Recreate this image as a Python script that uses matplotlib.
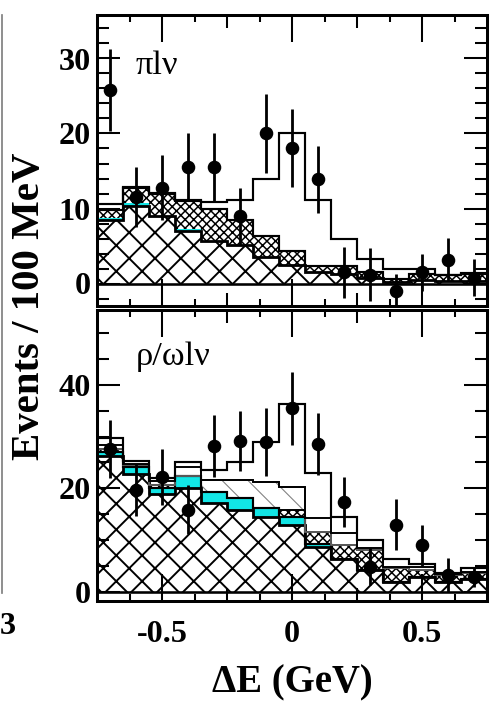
import matplotlib
matplotlib.use('Agg')
import matplotlib.pyplot as plt
from matplotlib.ticker import MultipleLocator, FixedLocator, FuncFormatter
from matplotlib.lines import Line2D

DPI = 155
plt.rcParams['font.family'] = ['Liberation Serif', 'DejaVu Serif']
plt.rcParams['font.weight'] = 'bold'
plt.rcParams['hatch.linewidth'] = 0.9

# bins of Delta E (GeV)
edges = [-0.75, -0.65, -0.55, -0.45, -0.35, -0.25, -0.15, -0.05,
         0.05, 0.15, 0.25, 0.35, 0.45, 0.55, 0.65, 0.75]
centers = [-0.7, -0.6, -0.5, -0.4, -0.3, -0.2, -0.1, 0.0,
           0.1, 0.2, 0.3, 0.4, 0.5, 0.6, 0.7]

# pi l nu panel
pi_data = [25.8, 11.5, 12.8, 15.5, 15.5, 9.0, 20.0, 18.1, 13.9, 1.5, 1.2, -1.0, 1.5, 3.2, 0.8]
pi_err = [5.4, 4.0, 4.3, 4.5, 4.6, 3.8, 5.2, 5.2, 4.5, 3.4, 3.5, 2.3, 2.5, 2.9, 2.5]
pi_bkg1 = [8.5, 10.4, 9.0, 7.0, 5.7, 5.2, 3.5, 2.5, 1.5, 1.3, 0.8, 0.2, 0.5, 0.3, 0.3]
pi_bkg2 = [8.8, 10.7, 9.0, 7.3, 5.7, 5.2, 3.5, 2.5, 1.5, 1.3, 0.8, 0.2, 0.5, 0.3, 0.3]
pi_bkg3 = [9.8, 12.7, 12.0, 11.0, 9.9, 8.5, 6.4, 4.4, 2.3, 2.3, 1.6, 0.6, 1.3, 1.1, 1.3]
pi_total = [10.6, 12.9, 12.1, 11.1, 10.9, 11.2, 13.9, 20.0, 11.1, 5.9, 3.3, 1.9, 1.9, 1.2, 1.4]

# rho/omega l nu panel
rho_data = [27.6, 19.7, 22.2, 15.9, 28.2, 29.2, 28.9, 35.5, 28.5, 17.4, 4.8, 13.0, 9.0, 3.2, 2.9]
rho_err = [5.6, 5.1, 5.4, 4.7, 6.0, 5.8, 6.6, 7.1, 6.0, 4.8, 3.6, 4.9, 4.0, 3.3, 1.9]
rho_bkg1 = [26.2, 22.7, 18.9, 20.0, 17.1, 15.8, 14.4, 12.9, 8.6, 6.3, 4.2, 1.9, 2.9, 1.9, 2.5]
rho_bkg2 = [27.1, 24.2, 20.1, 22.4, 19.3, 18.1, 16.1, 14.5, 9.2, 6.3, 4.2, 1.9, 2.9, 1.9, 2.5]
rho_bkg3 = [27.6, 24.5, 20.6, 22.4, 19.3, 18.1, 16.1, 15.8, 11.6, 9.0, 8.0, 4.6, 4.2, 3.2, 3.6]
rho_bkg4 = [27.6, 24.5, 20.6, 22.4, 21.6, 21.6, 21.3, 20.3, 11.6, 9.0, 8.0, 4.6, 4.2, 3.2, 3.6]
rho_mid = [28.4, 24.8, 21.4, 24.2, 21.6, 21.6, 21.3, 20.3, 14.2, 11.3, 8.4, 4.8, 4.8, 3.4, 3.8]
rho_total = [29.7, 25.3, 22.0, 25.1, 23.5, 25.1, 29.0, 36.3, 23.0, 14.5, 10.0, 6.3, 5.3, 3.6, 4.5]

CYAN = '#12e6e6'

fig = plt.figure(figsize=(490 / DPI, 701 / DPI), dpi=DPI)
ax1 = fig.add_axes([97 / 490, 1 - 306 / 701, 390 / 490, 291 / 701])
ax2 = fig.add_axes([97 / 490, 1 - 601 / 701, 390 / 490, 291 / 701])


def xfmt(v, pos):
    if abs(v * 2 - round(v * 2)) < 1e-6:
        return '%g' % (v + 0.0)
    return ''


def thin_hatch(ax, top, base, hatch, color, lw):
    # hatch linewidth is picked up from rcParams when the patch is made
    with plt.rc_context({'hatch.linewidth': lw}):
        p = ax.stairs(top, edges, baseline=base, fill=True, facecolor='white',
                      edgecolor=color, hatch=hatch, lw=0)
    if hasattr(p, 'set_hatch_linewidth'):
        p.set_hatch_linewidth(lw)
    return p


def style_axes(ax, ymajor, yminor, ylim, show_x):
    ax.set_xlim(-0.75, 0.75)
    ax.set_ylim(*ylim)
    ax.xaxis.set_major_locator(FixedLocator([-0.5, -0.25, 0, 0.25, 0.5]))
    ax.xaxis.set_minor_locator(FixedLocator([-0.625, -0.375, -0.125, 0.125, 0.375, 0.625]))
    ax.xaxis.set_major_formatter(FuncFormatter(xfmt))
    ax.yaxis.set_major_locator(MultipleLocator(ymajor))
    ax.yaxis.set_minor_locator(MultipleLocator(yminor))
    ax.tick_params(which='both', direction='in', top=True, right=True,
                   width=0.95, labelsize=15, pad=3)
    ax.tick_params(axis='y', which='major', length=10.7)
    ax.tick_params(axis='y', which='minor', length=5.6)
    ax.tick_params(axis='x', which='major', length=12.5, pad=9, labelbottom=show_x)
    ax.tick_params(axis='x', which='minor', length=3.3)
    ticks = ax.xaxis.get_major_ticks()
    for i in (1, 3):
        ticks[i].tick1line.set_markersize(6)
        ticks[i].tick2line.set_markersize(6)
    for s in ax.spines.values():
        s.set_linewidth(1.4)
    for lab in ax.get_xticklabels() + ax.get_yticklabels():
        lab.set_fontweight('bold')
    ax.axhline(0, color='black', lw=1.2, zorder=5)


# ---- top panel: pi l nu ----
thin_hatch(ax1, pi_bkg1, 0, 'xx', 'black', 0.9)
ax1.stairs(pi_bkg2, edges, baseline=pi_bkg1, fill=True, facecolor=CYAN,
           edgecolor=CYAN, lw=0)
thin_hatch(ax1, pi_bkg3, pi_bkg2, 'xxxxxx', 'black', 0.7)
ax1.stairs(pi_bkg1, edges, baseline=None, color='black', lw=1.3)
ax1.stairs(pi_bkg3, edges, baseline=None, color='black', lw=1.0)
ax1.stairs(pi_total, edges, baseline=None, color='black', lw=1.0)
ax1.errorbar(centers, pi_data, yerr=pi_err, fmt='o', color='black',
             ms=5.3, elinewidth=1.3, capsize=0, zorder=6)
ax1.text(-0.60, 27.9, 'πlν', fontsize=16, fontweight='normal', va='baseline')
style_axes(ax1, 10, 2, (-3.0, 35.8), False)

# ---- bottom panel: rho/omega l nu ----
thin_hatch(ax2, rho_bkg1, 0, 'xx', 'black', 0.9)
ax2.stairs(rho_bkg2, edges, baseline=rho_bkg1, fill=True, facecolor=CYAN,
           edgecolor=CYAN, lw=0)
thin_hatch(ax2, rho_bkg3, rho_bkg2, 'xxxxxx', 'black', 0.7)
thin_hatch(ax2, rho_bkg4, rho_bkg3, '\\\\', '0.5', 0.5)
ax2.stairs(rho_bkg1, edges, baseline=None, color='black', lw=1.3)
ax2.stairs(rho_bkg2, edges, baseline=None, color='black', lw=1.0)
ax2.stairs(rho_bkg3, edges, baseline=None, color='black', lw=0.9)
ax2.stairs(rho_bkg4, edges, baseline=None, color='0.4', lw=0.8)
ax2.stairs(rho_mid, edges, baseline=None, color='black', lw=0.9)
ax2.stairs(rho_total, edges, baseline=None, color='black', lw=1.0)
ax2.errorbar(centers, rho_data, yerr=rho_err, fmt='o', color='black',
             ms=5.3, elinewidth=1.3, capsize=0, zorder=6)
ax2.text(-0.60, 43.8, 'ρ/ωlν', fontsize=16, fontweight='normal', va='baseline')
style_axes(ax2, 20, 5, (-1.8, 54.5), True)

fig.text(30 / 490, 1 - 306 / 701, 'Events / 100 MeV', rotation=90,
         ha='center', va='center', fontsize=19, fontweight='bold')
fig.text(292 / 490, 1 - 683 / 701, 'ΔE (GeV)', ha='center', va='center',
         fontsize=18, fontweight='bold')

# edge of the neighbouring panel
fig.add_artist(Line2D([1.5 / 490, 1.5 / 490], [1 - 593 / 701, 1 - 15 / 701],
                      transform=fig.transFigure, color='0.5', lw=0.8))
fig.text(0.0, 1 - 627 / 701, '3', ha='left', va='center', fontsize=15,
         fontweight='bold')

fig.savefig('out.png', dpi=DPI)
